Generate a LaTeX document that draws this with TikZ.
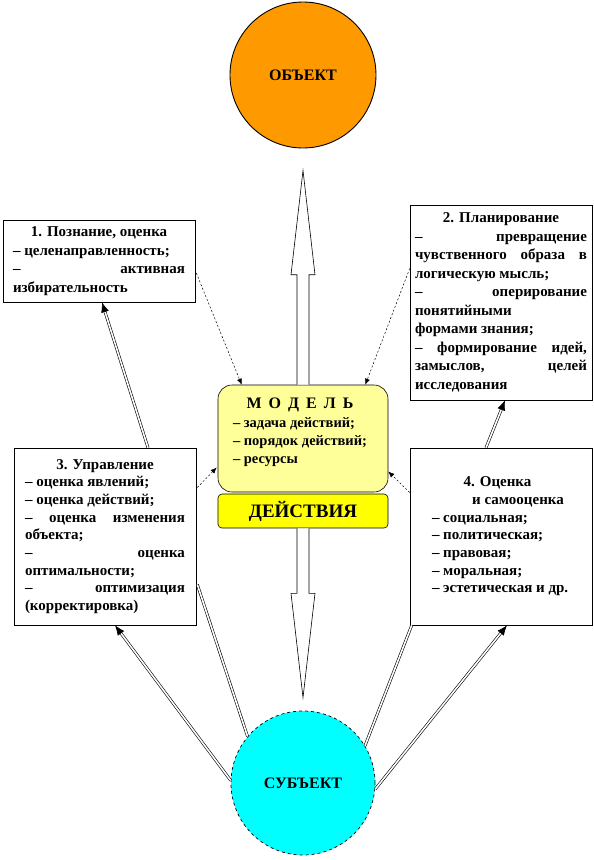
\documentclass[tikz,border=0pt]{standalone}
\usepackage{fontspec}
\setmainfont{Liberation Serif}
\usetikzlibrary{calc,arrows.meta}
\definecolor{objOrange}{RGB}{255,153,0}
\definecolor{subjCyan}{RGB}{0,255,255}
\definecolor{modelYellow}{RGB}{255,255,153}
\definecolor{actYellow}{RGB}{255,255,0}
\newcommand{\RowL}[1]{\hbox to\hsize{#1\hfil}}
\newcommand{\RowJ}[1]{\hbox to\hsize{#1}}
\newcommand{\RowC}[1]{\hbox to\hsize{\hfil#1\hfil}}
\newcommand{\Bloc}[2]{\vbox{\hsize=#1\relax #2}}
\tikzset{
  card/.style={draw=black,line width=0.6pt,fill=white,inner sep=0pt},
  pipe/.style={double=white,double distance=1.6pt,line width=0.6pt,-{Latex[length=10pt,width=8pt]}},
  hint/.style={line width=0.5pt,dash pattern=on 2pt off 2pt,-{Latex[length=6pt,width=5pt]}},
  hollow/.style={draw=black,fill=white,line width=0.6pt}
}

\begin{document}
\begin{tikzpicture}[x=1pt,y=-1pt]
\useasboundingbox (0,0) rectangle (594,860);
\node[circle,draw=black,line width=0.9pt,fill=objOrange,minimum size=146pt,inner sep=0pt,
      font=\bfseries\fontsize{16}{18}\selectfont] (obj) at (303,75) {ОБЪЕКТ};
\node[circle,draw=black,dashed,line width=0.7pt,fill=subjCyan,minimum size=144pt,inner sep=0pt,
      font=\bfseries\fontsize{16}{18}\selectfont] (subj) at (303,783) {СУБЪЕКТ};

\node[card,minimum width=192pt,minimum height=82pt,font=\bfseries\fontsize{15}{18.5}\selectfont] (b1) at (99,261) {%
\Bloc{172pt}{\RowC{1. Познание, оценка}
\RowL{– целенаправленность;}
\RowJ{–\hfill активная}
\RowL{избирательность}}};
\node[card,minimum width=182pt,minimum height=195pt,font=\bfseries\fontsize{15}{18.5}\selectfont] (b2) at (501,302.5) {%
\Bloc{172pt}{\RowC{2. Планирование}
\RowJ{–\hfill превращение}
\RowJ{чувственного\hfill образа\hfill в}
\RowL{логическую мысль;}
\RowJ{–\hfill оперирование}
\RowL{понятийными}
\RowL{формами знания;}
\RowJ{–\hfill формирование\hfill идей,}
\RowJ{замыслов,\hfill целей}
\RowL{исследования}}};
\node[card,minimum width=182pt,minimum height=177pt,font=\bfseries\fontsize{15}{17.7}\selectfont] (b3) at (105,536.5) {%
\Bloc{160pt}{\RowC{3. Управление}
\RowL{– оценка явлений;}
\RowL{– оценка действий;}
\RowJ{–\hfill оценка\hfill изменения}
\RowL{объекта;}
\RowJ{–\hfill оценка}
\RowL{оптимальности;}
\RowJ{–\hfill оптимизация}
\RowL{(корректировка)}}};
\node[card,minimum width=182pt,minimum height=177pt,font=\bfseries\fontsize{15}{17.7}\selectfont] (b4) at (501,536.5) {%
\hspace*{15pt}\Bloc{153pt}{\RowC{4. Оценка\hspace{22pt}}
\RowC{\hspace{19pt}и самооценка}
\RowL{– социальная;}
\RowL{– политическая;}
\RowL{– правовая;}
\RowL{– моральная;}
\RowL{– эстетическая и др.}}};

\node[draw=black,line width=0.6pt,rounded corners=14pt,fill=modelYellow,minimum width=170pt,minimum height=107pt,
      inner sep=0pt,font=\bfseries\fontsize{14.5}{18.3}\selectfont] (model) at (303,438.5) {%
\Bloc{140pt}{\RowC{\fontsize{16}{18}\selectfont М\hspace{3pt} О\hspace{3pt} Д\hspace{3pt} Е\hspace{3pt} Л\hspace{3pt} Ь\hspace{6pt}}
\RowL{– задача действий;}
\RowL{– порядок действий;}
\RowL{– ресурсы}\vskip 12pt}};
\node[draw=black,line width=0.6pt,rounded corners=4pt,fill=actYellow,minimum width=170pt,minimum height=34pt,
      inner sep=0pt,font=\bfseries\fontsize{19}{22}\selectfont] (act) at (303,511) {ДЕЙСТВИЯ};

% hollow arrows
\draw[hollow] ($(model.north)+(-6,0)$) -- ($(model.north)+(-6,-110)$) -- ($(model.north)+(-12,-110)$)
  -- ($(obj.south)+(0,22)$) -- ($(model.north)+(12,-110)$) -- ($(model.north)+(6,-110)$) -- ($(model.north)+(6,0)$);
\draw[hollow] ($(act.south)+(-6,0)$) -- ($(act.south)+(-6,65)$) -- ($(act.south)+(-12,65)$)
  -- ($(subj.north)+(0,-13)$) -- ($(act.south)+(12,65)$) -- ($(act.south)+(6,65)$) -- ($(act.south)+(6,0)$);

% double lines
\draw[pipe] ($(b3.north)+(43,0)$) -- ($(b1.south)+(3,0)$);
\draw[pipe] ($(b4.north)+(-15,0)$) -- ($(b2.south)+(4,0)$);
\draw[pipe] (subj.178) -- ($(b3.south)+(10,0)$);
\draw[pipe,-] ($(b3.east)+(1,48)$) -- (subj.140);
\draw[pipe,-] ($(b4.south west)+(2,0)$) -- (subj.31);
\draw[pipe] (subj.-5) -- ($(b4.south)+(6,0)$);

% dashed
\draw[hint] ($(b1.east)+(1,12)$) -- ($(model.north west)+(24,0)$);
\draw[hint] ($(b2.west)+(0,-34)$) -- ($(model.north east)+(-23,0)$);
\draw[hint] ($(b3.east)+(1,-49)$) -- ($(model.west)+(-1,29)$);
\draw[hint] ($(b4.west)+(0,-44)$) -- ($(model.east)+(0,33)$);
\end{tikzpicture}
\end{document}
